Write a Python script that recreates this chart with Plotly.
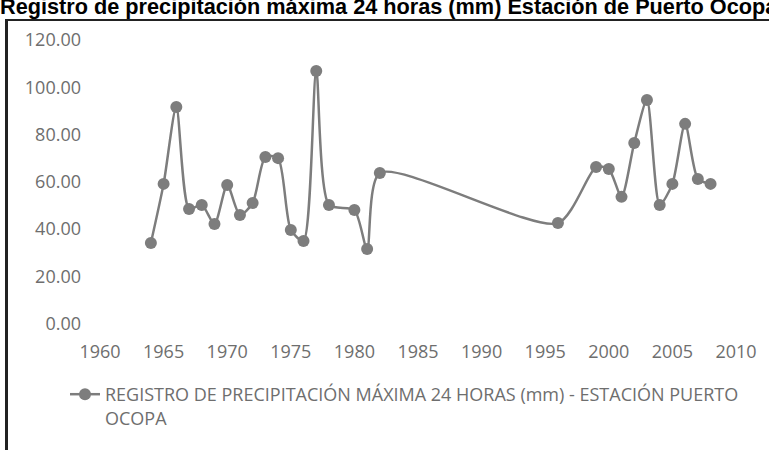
import plotly.graph_objects as go

years = [1964, 1965, 1966, 1967, 1968, 1969, 1970, 1971, 1972, 1973, 1974, 1975,
         1976, 1977, 1978, 1980, 1981, 1982, 1996, 1999, 2000, 2001, 2002, 2003,
         2004, 2005, 2006, 2007, 2008]
precip_mm = [34.1, 59.1, 91.6, 48.5, 50.2, 42.1, 58.6, 45.9, 51.0, 70.5, 70.0, 39.6,
             34.9, 106.9, 50.2, 48.0, 31.5, 63.7, 42.5, 66.2, 65.4, 53.6, 76.4, 94.6,
             50.2, 59.1, 84.5, 61.2, 59.1]
x_ticks = [1960, 1965, 1970, 1975, 1980, 1985, 1990, 1995, 2000, 2005, 2010]
y_ticks = [0, 20, 40, 60, 80, 100, 120]
series_name = "REGISTRO DE PRECIPITACIÓN MÁXIMA 24 HORAS (mm) - ESTACIÓN PUERTO<br>OCOPA"
title_text = "Registro de precipitación máxima 24 horas (mm) Estación de Puerto Ocopa"

W, H = 769, 450
gray = "#7d7d7d"
tick_color = "#6e6e6e"
font_family = "Open Sans"

fig = go.Figure()
fig.add_trace(go.Scatter(
    x=years, y=precip_mm, name=series_name,
    mode="lines+markers",
    line=dict(color=gray, width=2.5, shape="spline", smoothing=0.7),
    marker=dict(color=gray, size=12, symbol="circle"),
    showlegend=True,
))

fig.update_layout(
    width=W, height=H, autosize=False,
    margin=dict(l=0, r=0, t=0, b=0, pad=0, autoexpand=False),
    paper_bgcolor="white", plot_bgcolor="white",
    xaxis=dict(domain=[100 / W, 736 / W], range=[1960, 2010],
               tickvals=x_ticks, automargin=False,
               showgrid=False, zeroline=False, showline=False, ticks="",
               tickfont=dict(family=font_family, size=18, color=tick_color),
               ticklabelstandoff=15),
    yaxis=dict(domain=[1 - 323.5 / H, 1 - 40 / H], range=[0, 120],
               tickvals=y_ticks, tickformat=".2f", automargin=False,
               showgrid=False, zeroline=False, showline=False, ticks="",
               tickfont=dict(family=font_family, size=18, color=tick_color),
               ticklabelstandoff=18),
    legend=dict(x=65 / W, y=1 - 376 / H, xanchor="left", yanchor="top",
                valign="top", bgcolor="rgba(0,0,0,0)",
                font=dict(family=font_family, size=18, color=tick_color)),
    font=dict(family=font_family),
    shapes=[
        dict(type="line", xref="paper", yref="paper",
             x0=6.5 / W, x1=6.5 / W, y0=1 - 20 / H, y1=0,
             line=dict(color="#222222", width=3)),
        dict(type="line", xref="paper", yref="paper",
             x0=5 / W, x1=1, y0=1 - 20 / H, y1=1 - 20 / H,
             line=dict(color="#222222", width=2)),
    ],
    annotations=[
        dict(text="<b>" + title_text + "</b>", xref="paper", yref="paper",
             x=-2 / W, y=1 - 21 / H, xanchor="left", yanchor="bottom",
             showarrow=False,
             font=dict(family="Liberation Sans", size=21.7, color="black")),
    ],
)

fig.write_html("out.html", config={"displayModeBar": False},
               post_script="document.body.style.margin='0';")
